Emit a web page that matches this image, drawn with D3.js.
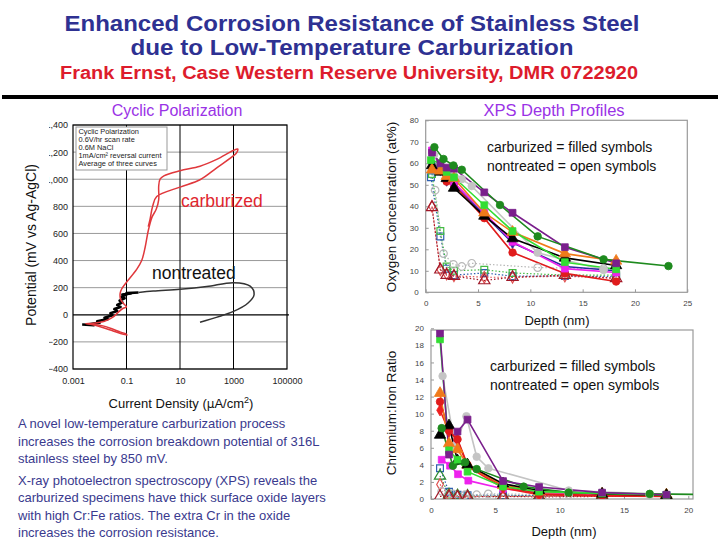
<!DOCTYPE html>
<html><head><meta charset="utf-8">
<script src="https://cdn.jsdelivr.net/npm/d3@7/dist/d3.min.js"></script>
<style>body{margin:0;background:#fff}svg{display:block}</style>
</head><body>
<svg id="c" width="720" height="540"></svg>
<script>
// ---------------- DATA ----------------
const titleLines = ["Enhanced Corrosion Resistance of Stainless Steel", "due to Low-Temperature Carburization"];
const authorLine = "Frank Ernst, Case Western Reserve University, DMR 0722920";
const paragraph = [
  "A novel low-temperature carburization process",
  "increases the corrosion breakdown potential of 316L",
  "stainless steel by 850 mV.",
  "X-ray photoelectron spectroscopy (XPS) reveals the",
  "carburized specimens have thick surface oxide layers",
  "with high Cr:Fe ratios.  The extra Cr in the oxide",
  "increases the corrosion resistance."
];
const polLegend = ["Cyclic Polarization", "0.6V/hr scan rate", "0.6M NaCl", "1mA/cm\u00B2 reversal current", "Average of three curves"];
const polYTicks = [-400, -200, 0, 200, 400, 600, 800, 1000, 1200, 1400];
const polXTicks = [0.001, 0.1, 10, 1000, 100000];
const polXTickLabels = ["0.001", "0.1", "10", "1000", "100000"];
// current density (uA/cm2), potential (mV)
const carburizedCurve = [
  [0.11,-150],[0.06,-138],[0.03,-118],[0.012,-92],[0.005,-72],[0.003,-65],[0.006,-62],[0.015,-48],
  [0.03,-20],[0.05,20],[0.075,48],[0.1,58],[0.08,80],[0.06,115],[0.058,160],[0.066,190],[0.1,240],
  [0.24,335],[0.37,400],[0.5,500],[0.65,620],[0.9,720],[1.3,780],[1.6,850],[1.6,950],[1.8,1000],
  [2.5,1025],[10,1063],[56,1096],[236,1146],[980,1212],[1450,1222],[1350,1200],[1150,1183],
  [236,1084],[56,996],[10,942],[1.35,872],[0.95,800],[0.75,700],[0.65,650]
];
const carburizedTail = [[0.004,-66],[0.012,-80],[0.03,-105],[0.06,-128],[0.1,-142]];
const nontreatedNoisy = [
  [0.0022,-72],[0.006,-76],[0.004,-70],[0.01,-58],[0.008,-48],[0.02,-32],[0.015,-22],[0.03,-4],
  [0.025,12],[0.045,28],[0.035,42],[0.06,58],[0.045,72],[0.07,92],[0.055,104],[0.085,122],
  [0.065,134],[0.1,148],[0.07,150],[0.15,158],[0.1,160],[0.28,164]
];
const nontreatedCurve = [
  [0.28,164],[1,175],[10,188],[100,208],[1000,237],[4200,212],[5900,150],[3500,87],[1000,25],[56,-55]
];

const oxyXTicks = [0, 5, 10, 15, 20, 25];
const oxyYTicks = [0, 10, 20, 30, 40, 50, 60, 70, 80];
const crXTicks = [0, 5, 10, 15, 20];
const crYTicks = [0, 2, 4, 6, 8, 10, 12, 14, 16, 18, 20];

// Oxygen concentration (at%) vs depth (nm)
const oxyDkGreen = [[0.83,67.5],[1.7,62],[2.65,59],[3.45,57],[7.1,40.6],[10.7,26],[17,15.3],[23.2,12.2]];
const oxyPurple  = [[0.6,65],[1.4,60],[2.0,58],[2.7,57.5],[5.6,46.5],[8.3,37],[13.3,21],[18.2,13.5]];
const oxyOrange  = [[0.6,57],[1.4,56.5],[2.0,54],[2.7,53],[5.6,37],[8.3,28],[13.3,18],[18.2,14.6]];
const oxyBlack   = [[0.6,59],[1.4,56],[2.0,53],[2.7,48.5],[5.6,35.5],[8.3,25],[13.3,16],[18.2,12.5]];
const oxyRed     = [[0.6,58],[1.4,57],[2.0,51.5],[2.7,50],[5.6,34.5],[8.3,18.5],[13.3,8.8],[18.2,5]];
const oxyMagenta = [[0.6,66],[1.4,58],[2.0,55],[2.7,51],[5.6,37],[8.3,23.5],[13.3,11],[18.2,9.2]];
const oxyGreen   = [[0.5,61.5],[1.4,60],[2.0,56],[2.7,53.5],[5.6,40.5],[8.3,28.5],[13.3,14],[18.2,10.7]];
const oxyGray    = [[0.8,64],[1.7,58],[2.65,56],[3.45,52.6],[4.4,49.4],[10.7,18.4],[17,10.4]];
const oxyNavy    = [[0.6,60],[1.4,57],[2.0,52],[2.7,50],[5.6,36],[8.3,23],[13.3,12],[18.2,10]];
const oxyNavyOpen  = [[0.5,53.5],[1.4,26],[2.0,11],[2.7,8],[5.6,9],[8.3,7.5],[13.3,7.6],[18.2,7.3]];
const oxyGreenOpen = [[0.6,55],[1.4,28.5],[2.0,12],[2.7,10],[5.6,10.5],[8.3,9],[13.3,8],[18.2,8]];
const oxyGrayOpen  = [[0.9,47.5],[1.7,18],[2.65,13],[3.45,12],[4.4,13.5],[10.7,11.5],[17,11]];
const oxyRedOpen   = [[0.6,40],[1.4,10.5],[2.0,8.5],[2.7,7.7],[5.6,7],[8.3,7],[13.3,7.5],[18.2,6.5]];
const oxyDkRedOpen = [[0.6,39.5],[1.4,10.5],[2.0,8],[2.7,7.5],[5.6,5.5],[8.3,7],[13.3,8],[18.2,6.5]];

// Chromium:Iron ratio vs depth (nm)
const crDkGreen = [[0.83,8.3],[1.7,3.9],[2.65,4.3],[3.55,3.5],[7.2,1.45],[10.7,0.75],[17,0.6],[23.2,0.5]];
const crPurple  = [[0.7,19.4],[1.4,5.2],[2.06,7.9],[2.84,9.3],[5.6,2.1],[8.4,1.4],[13.3,0.75],[18.3,0.5]];
const crOrange  = [[0.7,12.4],[1.4,6.5],[2.06,5.8],[2.84,4.0],[5.6,1.6],[8.4,0.9],[13.3,0.6],[18.3,0.5]];
const crBlack   = [[0.7,7.5],[1.4,8.6],[2.06,4.5],[2.84,4.0],[5.6,1.8],[8.4,1.0],[13.3,0.6],[18.3,0.45]];
const crRed     = [[0.7,11.4],[1.4,8.0],[2.06,7.0],[2.84,4.0],[5.6,1.5],[8.4,0.6],[13.3,0.4],[18.3,0.35]];
const crRedDiam = [[0.7,10.4],[1.4,7.9],[2.06,6.9],[2.84,3.8],[5.6,1.3],[8.4,0.5],[13.3,0.35],[18.3,0.3]];
const crMagenta = [[0.83,4.6],[1.48,3.9],[2.1,2.9],[2.9,2.15],[5.6,1.2],[8.4,0.8],[13.3,0.5],[18.3,0.4]];
const crGreen   = [[0.7,18.7],[1.4,5.7],[2.06,4.6],[2.84,3.2],[5.6,1.45],[8.4,0.86],[13.3,0.66],[18.3,0.47]];
const crGray    = [[0.9,14.4],[1.87,6.3],[2.75,9.7],[3.55,4.95],[4.46,3.6],[10.7,1.0],[17,0.6]];
const crNavyOpen  = [[0.7,3.6],[1.4,0.85],[2.06,0.5],[2.84,0.45],[5.6,0.45],[8.4,0.4],[13.3,0.45],[18.3,0.45]];
const crGreenOpen = [[0.7,2.7],[1.4,0.5],[2.06,0.4],[2.84,0.35],[5.6,0.35],[8.4,0.35],[13.3,0.4],[18.3,0.4]];
const crRedOpen   = [[0.7,1.7],[1.4,0.4],[2.06,0.3],[2.84,0.3],[5.6,0.3],[8.4,0.3],[13.3,0.3],[18.3,0.3]];
const crGrayOpen  = [[0.83,0.9],[1.7,0.6],[2.65,0.5],[3.55,0.5],[4.45,0.6],[10.7,0.5],[17,0.5]];
const crDkRedOpen = [[0.7,0.3],[1.4,0.3],[2.06,0.25],[2.84,0.25],[5.6,0.3],[8.4,0.25],[13.3,0.3],[18.3,0.3]];

// ---------------- STYLES ----------------
const styles = {
  dkGreen:{color:"#1e8a1e",shape:"circle",filled:true},
  purple:{color:"#7a1f8c",shape:"square",filled:true},
  orange:{color:"#f07a1a",shape:"triangle",filled:true},
  black:{color:"#000000",shape:"triangle",filled:true},
  red:{color:"#e01c1c",shape:"circle",filled:true},
  redDiam:{color:"#ee2020",shape:"diamond",filled:true},
  magenta:{color:"#ee22ee",shape:"square",filled:true},
  green:{color:"#33dd33",shape:"square",filled:true},
  gray:{color:"#c4c4c4",shape:"circle",filled:true},
  navy:{color:"#2a2aa0",shape:"diamond",filled:true},
  navyOpen:{color:"#3060b0",shape:"square",filled:false},
  greenOpen:{color:"#44bb44",shape:"square",filled:false},
  grayOpen:{color:"#b8b8b8",shape:"circle",filled:false},
  redOpen:{color:"#e05050",shape:"diamond",filled:false},
  dkRedOpen:{color:"#a01828",shape:"triangle",filled:false},
  greenTriOpen:{color:"#2e8b2e",shape:"triangle",filled:false}
};
const oxySeries = [
  ["navyOpen",oxyNavyOpen],["greenOpen",oxyGreenOpen],["grayOpen",oxyGrayOpen],["redOpen",oxyRedOpen],["dkRedOpen",oxyDkRedOpen],
  ["gray",oxyGray],["navy",oxyNavy],["red",oxyRed],["magenta",oxyMagenta],["black",oxyBlack],["orange",oxyOrange],
  ["green",oxyGreen],["purple",oxyPurple],["dkGreen",oxyDkGreen]
];
const crSeries = [
  ["navyOpen",crNavyOpen],["greenTriOpen",crGreenOpen],["redOpen",crRedOpen],["grayOpen",crGrayOpen],["dkRedOpen",crDkRedOpen],
  ["gray",crGray],["magenta",crMagenta],["redDiam",crRedDiam],["red",crRed],["orange",crOrange],["black",crBlack],
  ["dkGreen",crDkGreen],["green",crGreen],["purple",crPurple]
];

// ---------------- DRAW ----------------
const svg = d3.select("#c");
const font = "'Liberation Sans', Arial, sans-serif";
svg.append("rect").attr("width",720).attr("height",540).attr("fill","#fff");
const defs = svg.append("defs");

// Titles
const tY = [31, 55];
const tLen = [575, 443];
titleLines.forEach((t,i)=>{
  svg.append("text").attr("x",352).attr("y",tY[i]).attr("text-anchor","middle")
    .attr("font-family","'Liberation Sans Narrow','Arial Narrow','Liberation Sans',sans-serif").attr("font-weight","bold")
    .attr("font-size",22).attr("fill","#2e3192").attr("textLength",tLen[i]).attr("lengthAdjust","spacingAndGlyphs").text(t);
});
svg.append("text").attr("x",349).attr("y",79).attr("text-anchor","middle")
  .attr("font-family","'Liberation Sans Narrow','Arial Narrow','Liberation Sans',sans-serif").attr("font-weight","bold")
  .attr("font-size",18).attr("fill","#dd1c2c").attr("textLength",578).attr("lengthAdjust","spacingAndGlyphs").text(authorLine);
svg.append("rect").attr("x",2).attr("y",95).attr("width",716).attr("height",4).attr("fill","#000");

// ---------- Cyclic polarization chart ----------
const px = d3.scaleLog().domain([0.001,100000]).range([73,287]);
const py = d3.scaleLinear().domain([-400,1400]).range([369,125]);
svg.append("text").attr("x",177).attr("y",116).attr("text-anchor","middle").attr("font-family",font)
  .attr("font-size",16).attr("fill","#9a32e6").text("Cyclic Polarization");
// clip for the y tick labels (coordinates relative to the translated axis group)
defs.append("clipPath").attr("id","lclip").append("rect").attr("x",49-73).attr("y",100).attr("width",60).attr("height",300);
const pg = svg.append("g");
pg.selectAll("line.h").data(polYTicks).join("line").attr("x1",73).attr("x2",d=>d===0?289:287)
  .attr("y1",d=>py(d)).attr("y2",d=>py(d)).attr("stroke",d=>d===0?"#000":"#999").attr("stroke-width",d=>d===0?1.3:1);
pg.selectAll("line.v").data(polXTicks.slice(1,-1)).join("line").attr("y1",125).attr("y2",369)
  .attr("x1",d=>px(d)).attr("x2",d=>px(d)).attr("stroke","#000").attr("stroke-width",1);
pg.append("rect").attr("x",73).attr("y",py(1400)).attr("width",214).attr("height",py(-400)-py(1400))
  .attr("fill","none").attr("stroke","#000").attr("stroke-width",1.2);
const yAx = d3.axisLeft(py).tickValues(polYTicks).tickSize(0).tickPadding(5);
const gy = svg.append("g").attr("transform","translate(73,0)").attr("clip-path","url(#lclip)").call(yAx);
gy.select(".domain").remove();
gy.selectAll("text").attr("font-family",font).attr("font-size",9).attr("fill","#222");
const xAx = d3.axisBottom(px).tickValues(polXTicks).tickFormat((d,i)=>polXTickLabels[i]).tickSize(0).tickPadding(9);
const gx = svg.append("g").attr("transform","translate(0,369)").call(xAx);
gx.select(".domain").remove();
gx.selectAll("text").attr("font-family",font).attr("font-size",9).attr("fill","#222");
svg.append("text").attr("transform","translate(36,245) rotate(-90)").attr("text-anchor","middle").attr("font-family",font)
  .attr("font-size",14).attr("fill","#111").text("Potential (mV vs Ag-AgCl)");
const xt = svg.append("text").attr("x",181).attr("y",408).attr("text-anchor","middle").attr("font-family",font)
  .attr("font-size",13).attr("fill","#111");
xt.append("tspan").text("Current Density (");
xt.append("tspan").attr("font-family","'DejaVu Sans',sans-serif").attr("font-size",12).text("\u03BC");
xt.append("tspan").text("A/cm");
xt.append("tspan").attr("font-size",9).attr("dy",-5).text("2");
xt.append("tspan").attr("dy",5).text(")");
// curves
const pl = d3.line().x(d=>px(d[0])).y(d=>py(d[1])).curve(d3.curveCatmullRom.alpha(0.5));
const plStraight = d3.line().x(d=>px(d[0])).y(d=>py(d[1]));
svg.append("path").attr("d",plStraight(nontreatedNoisy)).attr("fill","none").attr("stroke","#000").attr("stroke-width",2.6).attr("stroke-linejoin","round");
svg.append("path").attr("d",pl(nontreatedCurve)).attr("fill","none").attr("stroke","#333").attr("stroke-width",1.5);
svg.append("path").attr("d",pl(carburizedCurve)).attr("fill","none").attr("stroke","#e0383c").attr("stroke-width",1.5);
svg.append("path").attr("d",pl(carburizedTail)).attr("fill","none").attr("stroke","#e0383c").attr("stroke-width",1.5);
// legend
svg.append("rect").attr("x",76).attr("y",127).attr("width",91).attr("height",43).attr("fill","#fff").attr("stroke","#999").attr("stroke-width",1);
polLegend.forEach((t,i)=>{
  svg.append("text").attr("x",78.5).attr("y",134+i*8).attr("font-family",font).attr("font-size",7.4).attr("fill","#222").text(t);
});
svg.append("text").attr("x",181).attr("y",207).attr("font-family",font).attr("font-size",17.5).attr("fill","#e0262e").text("carburized");
svg.append("text").attr("x",152).attr("y",279).attr("font-family",font).attr("font-size",17.5).attr("fill","#111").text("nontreated");

// paragraph
const pY = [428,446,463,485,502,520,537];
paragraph.forEach((t,i)=>{
  svg.append("text").attr("x",18).attr("y",pY[i]).attr("font-family",font).attr("font-size",13).attr("fill","#3a3a8e").text(t);
});

// ---------- XPS charts ----------
svg.append("text").attr("x",554).attr("y",116).attr("text-anchor","middle").attr("font-family",font)
  .attr("font-size",16.5).attr("fill","#9a32e6").text("XPS Depth Profiles");

const symGen = {circle:d3.symbolCircle,square:d3.symbolSquare,triangle:d3.symbolTriangle,diamond:d3.symbolDiamond};
function drawXps(cfg){
  const x = d3.scaleLinear().domain(cfg.xDomain).range(cfg.xRange);
  const y = d3.scaleLinear().domain(cfg.yDomain).range(cfg.yRange);
  const g = svg.append("g");
  const cid = "clip"+cfg.id;
  defs.append("clipPath").attr("id",cid).append("rect")
    .attr("x",cfg.xRange[0]).attr("y",cfg.frameTop).attr("width",cfg.frameRight-cfg.xRange[0]).attr("height",cfg.yRange[0]-cfg.frameTop);
  g.append("rect").attr("x",cfg.xRange[0]).attr("y",cfg.frameTop).attr("width",cfg.frameRight-cfg.xRange[0])
    .attr("height",cfg.yRange[0]-cfg.frameTop).attr("fill","#fff").attr("stroke","#999").attr("stroke-width",1.2);
  const ax = d3.axisBottom(x).tickValues(cfg.xTicks).tickSize(3).tickPadding(5);
  const gx = g.append("g").attr("transform",`translate(0,${cfg.yRange[0]})`).call(ax);
  gx.select(".domain").remove();
  gx.selectAll("line").attr("stroke","#999").attr("y2",-3);
  gx.selectAll("text").attr("font-family",font).attr("font-size",8).attr("fill","#444");
  const ay = d3.axisLeft(y).tickValues(cfg.yTicks).tickSize(3).tickPadding(4);
  const gy = g.append("g").attr("transform",`translate(${cfg.xRange[0]},0)`).call(ay);
  gy.select(".domain").remove();
  gy.selectAll("line").attr("stroke","#999").attr("x2",3);
  gy.selectAll("text").attr("font-family",font).attr("font-size",8).attr("fill","#444");
  const data = g.append("g").attr("clip-path",`url(#${cid})`);
  const line = d3.line().x(d=>x(d[0])).y(d=>y(d[1]));
  cfg.series.forEach(([key,vals])=>{
    const s = styles[key];
    data.append("path").attr("d",line(vals)).attr("fill","none").attr("stroke",s.color)
      .attr("stroke-width",s.filled?1.6:1.2).attr("stroke-dasharray",s.filled?null:"1.5,2");
  });
  cfg.series.forEach(([key,vals])=>{
    const s = styles[key];
    const size = s.shape==="triangle"?55:(s.shape==="diamond"?38:(s.shape==="circle"?45:46));
    data.selectAll(null).data(vals).join("path")
      .attr("transform",d=>`translate(${x(d[0])},${y(d[1])})`)
      .attr("d",d3.symbol().type(symGen[s.shape]).size(size))
      .attr("fill",s.filled?s.color:"none").attr("stroke",s.color).attr("stroke-width",s.filled?0.8:1.2);
  });
  svg.append("text").attr("transform",`translate(${cfg.yTitleX},${cfg.yTitleY}) rotate(-90)`).attr("text-anchor","middle")
    .attr("font-family",font).attr("font-size",13.5).attr("fill","#111").text(cfg.yTitle);
  svg.append("text").attr("x",cfg.xTitleX).attr("y",cfg.xTitleY).attr("text-anchor","middle")
    .attr("font-family",font).attr("font-size",13).attr("fill","#111").text("Depth (nm)");
  ["carburized = filled symbols","nontreated = open symbols"].forEach((t,i)=>{
    svg.append("text").attr("x",cfg.noteX).attr("y",cfg.noteY+i*19).attr("font-family",font)
      .attr("font-size",14).attr("fill","#111").text(t);
  });
}
drawXps({id:"oxy",xDomain:[0,25],xRange:[425.7,687.3],yDomain:[0,80],yRange:[292.3,120.3],frameTop:120.3,frameRight:687.3,
  xTicks:oxyXTicks,yTicks:oxyYTicks,series:oxySeries,yTitle:"Oxygen Concentration (at%)",yTitleX:396,yTitleY:207,
  xTitleX:557,xTitleY:325,noteX:487,noteY:152});
drawXps({id:"cr",xDomain:[0,20],xRange:[431,688.3],yDomain:[0,20],yRange:[499,328.3],frameTop:330,frameRight:693,
  xTicks:crXTicks,yTicks:crYTicks,series:crSeries,yTitle:"Chromium:Iron Ratio",yTitleX:396,yTitleY:413,
  xTitleX:564,xTitleY:536,noteX:490,noteY:371});
</script>
</body></html>
